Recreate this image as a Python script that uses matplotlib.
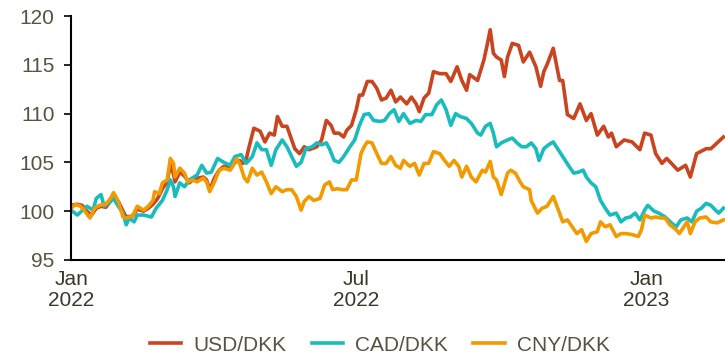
import matplotlib
matplotlib.use("Agg")
import matplotlib.pyplot as plt
import matplotlib.dates as mdates
import pandas as pd

plt.rcParams['font.family'] = ['Liberation Sans', 'DejaVu Sans']

start = pd.Timestamp("2022-01-01")

# days since 2022-01-01 and index level (Jan 2022 = 100)
usd_days = [0, 4, 7, 10, 13, 16, 19, 22, 25, 27,
            30, 33, 35, 39, 42, 46, 49, 52, 55, 58,
            61, 63, 65, 66, 69, 72, 75, 78, 81, 84,
            86, 88, 91, 94, 97, 101, 104, 107, 109, 111,
            113, 116, 120, 123, 126, 129, 131, 134, 137, 140,
            142, 145, 148, 151, 156, 159, 162, 165, 167, 170,
            173, 175, 178, 181, 183, 185, 188, 191, 194, 197,
            200, 203, 206, 209, 213, 216, 219, 221, 224, 227,
            230, 234, 238, 241, 245, 248, 251, 253, 258, 262,
            264, 266, 268, 270, 273, 275, 277, 280, 284, 287,
            291, 295, 298, 300, 302, 306, 310, 312, 315, 319,
            323, 327, 330, 334, 338, 341, 343, 346, 351, 356,
            361, 364, 368, 371, 375, 378, 381, 385, 390, 393,
            397, 403, 406, 410, 414]
usd_vals = [100.6, 100.7, 100.6, 100.0, 99.6, 100.3, 100.5, 100.4, 101.0, 101.5,
            101.0, 100.0, 99.4, 99.5, 100.2, 100.0, 100.3, 100.7, 101.3, 102.3,
            103.0, 104.8, 103.8, 103.0, 104.0, 103.6, 102.9, 103.3, 103.4, 103.5,
            103.2, 102.2, 103.4, 104.2, 104.6, 104.6, 105.0, 105.2, 104.9, 105.2,
            106.6, 108.5, 108.2, 107.1, 108.0, 107.8, 109.7, 108.7, 108.7, 107.3,
            106.4, 105.9, 106.6, 106.3, 106.6, 107.3, 109.3, 108.8, 108.0, 108.0,
            107.6, 108.3, 108.8, 110.4, 111.9, 111.9, 113.3, 113.3, 112.6, 111.4,
            111.6, 112.4, 111.2, 111.7, 111.0, 111.7, 111.0, 110.2, 111.6, 112.1,
            114.3, 114.1, 114.1, 113.3, 114.8, 113.4, 112.4, 114.0, 113.4, 115.5,
            117.0, 118.6, 116.2, 115.8, 115.5, 113.8, 115.8, 117.2, 117.0, 115.3,
            116.3, 114.8, 112.8, 114.3, 115.0, 116.7, 113.4, 113.4, 109.9, 109.5,
            111.0, 109.3, 110.0, 107.8, 108.7, 107.6, 108.0, 106.6, 107.3, 107.1,
            106.3, 108.0, 107.8, 105.9, 104.9, 105.4, 104.9, 104.2, 104.7, 103.5,
            105.9, 106.4, 106.4, 107.0, 107.6]

cad_days = [0, 4, 8, 10, 14, 16, 19, 21, 25, 27,
            30, 33, 35, 37, 40, 42, 46, 51, 54, 58,
            61, 63, 65, 66, 69, 72, 75, 80, 83, 86,
            89, 93, 97, 101, 104, 108, 111, 113, 115, 118,
            121, 124, 127, 130, 134, 137, 140, 143, 146, 149,
            153, 156, 159, 162, 164, 167, 170, 173, 177, 180,
            183, 186, 189, 192, 196, 199, 202, 205, 208, 211,
            215, 219, 222, 225, 229, 232, 235, 238, 241, 244,
            247, 251, 254, 258, 260, 263, 266, 268, 270, 273,
            277, 280, 283, 286, 289, 292, 295, 297, 300, 303,
            306, 308, 312, 316, 319, 322, 325, 327, 330, 333,
            336, 339, 342, 346, 349, 352, 355, 358, 361, 364,
            366, 370, 373, 377, 381, 384, 387, 391, 394, 397,
            400, 403, 406, 409, 411, 414]
cad_vals = [100.1, 99.6, 100.2, 100.5, 100.1, 101.3, 101.7, 100.5, 101.0, 101.3,
            100.5, 99.8, 98.6, 99.3, 98.9, 99.6, 99.6, 99.4, 100.3, 101.1,
            102.2, 103.2, 102.5, 101.5, 102.9, 102.5, 103.2, 103.7, 104.7, 103.9,
            104.0, 105.4, 105.0, 104.7, 105.6, 105.8, 104.9, 105.2, 105.6, 107.0,
            106.3, 106.3, 104.7, 106.3, 107.3, 106.6, 105.6, 104.6, 105.0, 106.4,
            106.6, 107.0, 106.8, 107.0, 106.4, 105.2, 105.0, 105.6, 106.6, 107.3,
            108.8, 109.9, 110.0, 109.3, 109.2, 109.3, 110.0, 110.4, 109.2, 110.0,
            109.0, 109.3, 109.2, 109.9, 109.9, 110.9, 111.4, 110.4, 108.8, 110.0,
            109.7, 109.5, 109.0, 108.0, 107.8, 108.7, 109.0, 108.0, 106.6, 107.0,
            107.3, 107.5, 107.0, 106.6, 106.6, 107.0, 106.4, 105.2, 106.4, 106.8,
            107.1, 106.6, 105.6, 104.6, 103.9, 104.0, 104.2, 103.5, 102.9, 102.5,
            101.1, 100.3, 99.6, 99.8, 98.9, 99.3, 99.4, 99.8, 99.1, 100.1,
            100.6, 100.0, 99.8, 99.4, 98.8, 98.4, 99.1, 99.3, 98.9, 100.0,
            100.3, 100.8, 100.6, 100.1, 99.8, 100.3]

cny_days = [0, 3, 6, 9, 12, 15, 18, 22, 25, 27,
            30, 33, 35, 39, 42, 46, 49, 52, 53, 56,
            58, 61, 63, 65, 66, 69, 72, 74, 77, 80,
            84, 86, 88, 91, 94, 97, 101, 103, 105, 107,
            110, 112, 115, 118, 121, 124, 127, 130, 134, 137,
            140, 143, 146, 148, 151, 154, 158, 161, 164, 166,
            169, 172, 175, 178, 181, 184, 186, 188, 191, 194,
            197, 200, 203, 206, 209, 211, 215, 218, 221, 224,
            227, 230, 234, 237, 240, 243, 246, 248, 251, 254,
            257, 261, 263, 266, 268, 270, 273, 277, 279, 282,
            285, 287, 291, 292, 296, 299, 302, 306, 310, 312,
            315, 318, 321, 324, 327, 330, 334, 336, 339, 342,
            346, 349, 352, 356, 360, 362, 364, 368, 371, 374,
            377, 380, 384, 386, 391, 393, 396, 399, 403, 406,
            410, 414]
cny_vals = [100.3, 100.7, 100.5, 99.95, 99.3, 100.3, 100.6, 100.7, 101.3, 101.9,
            101.0, 99.4, 99.3, 99.5, 100.5, 100.1, 100.5, 101.1, 102.0, 101.8,
            102.9, 103.2, 105.4, 104.9, 103.5, 104.4, 103.9, 103.0, 103.2, 103.0,
            103.4, 103.0, 102.0, 103.0, 104.2, 104.4, 104.2, 104.7, 105.4, 104.9,
            103.4, 103.0, 104.4, 103.7, 104.0, 103.0, 101.8, 102.5, 102.0, 102.2,
            102.2, 101.5, 100.1, 101.0, 101.5, 101.1, 101.3, 102.7, 103.0, 102.2,
            102.3, 102.2, 102.2, 103.2, 103.2, 105.9, 106.6, 107.1, 107.0, 105.9,
            104.9, 104.9, 105.6, 104.7, 104.4, 105.2, 104.6, 104.9, 103.7, 104.9,
            104.9, 106.1, 105.9, 105.2, 104.6, 105.2, 104.6, 103.5, 104.6, 103.5,
            103.0, 104.2, 104.0, 105.1, 103.5, 103.2, 101.7, 103.9, 104.2, 103.9,
            103.0, 102.5, 102.2, 101.1, 99.8, 100.3, 100.5, 101.5, 99.8, 98.9,
            99.1, 98.4, 97.7, 98.1, 96.9, 97.7, 97.9, 98.9, 98.4, 98.6,
            97.4, 97.7, 97.7, 97.6, 97.4, 98.1, 99.6, 99.3, 99.4, 99.3,
            99.3, 98.6, 98.1, 97.7, 98.9, 97.7, 98.9, 99.3, 99.4, 98.9,
            98.8, 99.1]

series = [("USD/DKK", usd_days, usd_vals, "#c9441f"),
          ("CAD/DKK", cad_days, cad_vals, "#19bcbc"),
          ("CNY/DKK", cny_days, cny_vals, "#f29a00")]

label_col = "#5b5140"
xlabel_col = "#3c372a"
fs = 15

fig = plt.figure(figsize=(7.25, 3.58), dpi=100)
ax = fig.add_axes([0.098, 0.274, 0.902, 0.681])

for name, days, vals, col in series:
    dates = start + pd.to_timedelta(days, unit="D")
    ax.plot(dates, vals, color=col, lw=2.6, label=name, solid_joinstyle="round")

ax.set_ylim(95, 120)
ax.set_yticks([95, 100, 105, 110, 115, 120])
ax.set_xlim(start, start + pd.Timedelta(days=415))
ax.set_xticks(pd.to_datetime(["2022-01-01", "2022-07-01", "2023-01-01"]))
ax.xaxis.set_major_formatter(mdates.DateFormatter("%b\n%Y"))

for side in ["top", "right"]:
    ax.spines[side].set_visible(False)
for side in ["left", "bottom"]:
    ax.spines[side].set_color("black")
    ax.spines[side].set_linewidth(1.5)

ax.tick_params(axis="y", length=5, width=1.2, pad=7, labelsize=fs, labelcolor=label_col)
ax.tick_params(axis="x", length=0, pad=7, labelsize=fs, labelcolor=xlabel_col)
for t in ax.get_xticklabels():
    t.set_linespacing(1.15)

fig.legend(loc="center", bbox_to_anchor=(0.524, 0.036), ncol=3, frameon=False,
           fontsize=fs, labelcolor=label_col, handlelength=1.5,
           handletextpad=0.6, columnspacing=1.2)

fig.savefig("out.png", dpi=100)
